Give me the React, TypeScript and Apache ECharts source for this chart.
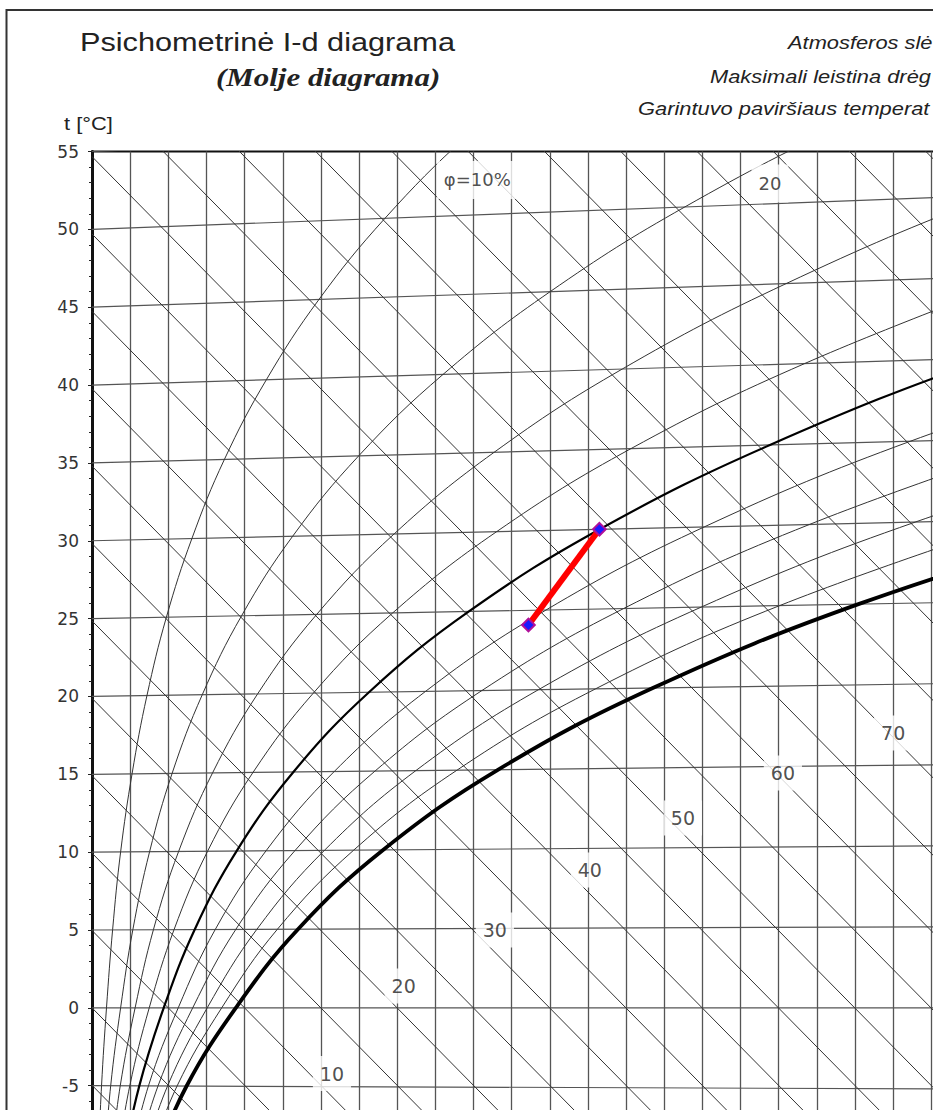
import React, { useEffect, useRef } from "react";
import * as echarts from "echarts";

// ---- chart geometry (skewed Mollier coordinates) ----
const D_MAX = 24; // g/kg, right end of x range (beyond picture)
const ISO_SKEW = 0.001849; // isotherm rise per g/kg (relative)
const H_SLOPE = 2.501; // kJ/kg per g/kg
const H_CP = 1.006;

// ---- values ----
const ISOTHERMS = [-10, -5, 0, 5, 10, 15, 20, 25, 30, 35, 40, 45, 50, 55];
const ENTHALPIES = [
  -10, -5, 0, 5, 10, 15, 20, 25, 30, 35, 40, 45, 50, 55, 60, 65, 70, 75, 80, 85, 90, 95, 100, 105, 110, 115, 120,
];
const Y_TICKS_MIN = -10;
const Y_TICKS_MAX = 55;
const Y_LABEL_MIN = -5; // lowest tick label shown in the picture

// relative humidity curves: [d g/kg, chart t]
const PHI_10 = [[0.16, -10.0], [0.25, -5.0], [0.38, 0], [0.54, 5.01], [0.75, 10.01], [1.05, 15.03], [1.44, 20.05], [1.95, 25.09], [2.62, 30.15], [3.47, 35.22], [4.57, 40.34], [5.95, 45.5], [7.68, 50.71], [9.83, 56.0], [12.49, 61.39]];
const PHI_20 = [[0.32, -10.01], [0.49, -5.0], [0.75, 0], [1.07, 5.01], [1.51, 10.03], [2.1, 15.06], [2.89, 20.11], [3.92, 25.18], [5.26, 30.29], [6.99, 35.45], [9.2, 40.68], [12.01, 46.0], [15.54, 51.44], [19.97, 57.03], [25.49, 62.83]];
const PHI_30 = [[0.48, -10.01], [0.74, -5.01], [1.13, 0], [1.61, 5.02], [2.27, 10.04], [3.16, 15.09], [4.34, 20.16], [5.89, 25.27], [7.92, 30.44], [10.54, 35.68], [13.9, 41.03], [18.19, 46.51], [23.61, 52.18], [30.45, 58.1]];
const PHI_40 = [[0.64, -10.01], [0.99, -5.01], [1.5, 0], [2.15, 5.02], [3.03, 10.06], [4.22, 15.12], [5.8, 20.21], [7.88, 25.36], [10.61, 30.59], [14.13, 35.92], [18.68, 41.38], [24.49, 47.04]];
const PHI_50 = [[0.8, -10.01], [1.24, -5.01], [1.88, 0], [2.69, 5.02], [3.79, 10.07], [5.28, 15.15], [7.26, 20.27], [9.88, 25.46], [13.31, 30.74], [17.77, 36.15], [23.52, 41.74], [30.91, 47.57]];
const PHI_60 = [[0.96, -10.02], [1.48, -5.01], [2.26, 0], [3.23, 5.03], [4.56, 10.08], [6.35, 15.18], [8.74, 20.32], [11.9, 25.55], [16.05, 30.89], [21.45, 36.39], [28.44, 42.1]];
const PHI_70 = [[1.12, -10.02], [1.73, -5.02], [2.64, 0], [3.77, 5.04], [5.32, 10.1], [7.42, 15.21], [10.22, 20.38], [13.93, 25.64], [18.8, 31.04], [25.17, 36.63]];
const PHI_80 = [[1.28, -10.02], [1.98, -5.02], [3.02, 0], [4.32, 5.04], [6.09, 10.11], [8.49, 15.24], [11.7, 20.43], [15.97, 25.74], [21.58, 31.2], [28.93, 36.87]];
const PHI_90 = [[1.44, -10.03], [2.23, -5.02], [3.4, 0], [4.86, 5.05], [6.86, 10.13], [9.57, 15.27], [13.2, 20.49], [18.02, 25.83], [24.38, 31.35]];
const PHI_100 = [[1.6, -10.03], [2.48, -5.02], [3.77, 0], [5.4, 5.05], [7.63, 10.14], [10.65, 15.3], [14.7, 20.54], [20.09, 25.93], [27.21, 31.51]];

const ENTHALPY_LABELS = ["10", "20", "30", "40", "50", "60", "70"];
const ENTHALPY_LABEL_D = [6.29, 8.17, 10.56, 13.05, 15.49, 18.11, 21.0];
const ENTHALPY_LABEL_T = [-4.22, 1.4, 5.0, 8.85, 12.19, 15.08, 17.65];

const PHI_LABELS = ["φ=10%", "20"];
const PHI_LABEL_D = [10.1, 17.77];
const PHI_LABEL_T = [53.17, 52.94];

const PROCESS_D = [11.44, 13.3];
const PROCESS_T = [24.59, 30.74];

const TITLE = "Psichometrinė I-d diagrama";
const SUBTITLE = "(Molje diagrama)";
const Y_NAME = "t [°C]";
const INFO_LINES = ["Atmosferos slė", "Maksimali leistina drėg", "Garintuvo paviršiaus temperat"];

export default function App() {
  const ref = useRef<HTMLDivElement>(null);
  useEffect(() => {
    document.body.style.margin = "0";
    const chart = echarts.init(ref.current as HTMLDivElement, null, { renderer: "svg" });
    const series: any[] = [];

    ISOTHERMS.forEach((t) => {
      series.push({
        type: "line",
        data: [[0, t], [D_MAX, t * (1 + ISO_SKEW * D_MAX)]],
        symbol: "none",
        silent: true,
        lineStyle: { color: "#555", width: 1.2 },
        z: 2,
      });
    });
    ENTHALPIES.forEach((h) => {
      series.push({
        type: "line",
        data: [[0, h / H_CP], [D_MAX, (h - H_SLOPE * D_MAX) / H_CP]],
        symbol: "none",
        silent: true,
        lineStyle: { color: "#333", width: 1 },
        z: 2,
      });
    });
    const phiCurves = [PHI_10, PHI_20, PHI_30, PHI_40, PHI_50, PHI_60, PHI_70, PHI_80, PHI_90, PHI_100];
    phiCurves.forEach((c, i) => {
      const w = i === 9 ? 3.8 : i === 4 ? 2.2 : 1;
      series.push({
        type: "line",
        data: c,
        smooth: 0.4,
        symbol: "none",
        silent: true,
        lineStyle: { color: i === 9 || i === 4 ? "#000" : "#333", width: w },
        z: 3,
      });
    });

    const labelStyle = {
      show: true,
      position: "inside",
      formatter: (p: any) => p.value[2],
      backgroundColor: "#fff",
      padding: [8, 7],
      fontSize: 19,
      fontFamily: "DejaVu Sans",
      color: "#222",
    };
    series.push({
      type: "scatter",
      data: ENTHALPY_LABELS.map((l, i) => [ENTHALPY_LABEL_D[i], ENTHALPY_LABEL_T[i], l]),
      symbolSize: 1,
      itemStyle: { color: "rgba(0,0,0,0)" },
      label: labelStyle,
      silent: true,
      z: 5,
    });
    series.push({
      type: "scatter",
      data: PHI_LABELS.map((l, i) => [PHI_LABEL_D[i], PHI_LABEL_T[i], l]),
      symbolSize: 1,
      itemStyle: { color: "rgba(0,0,0,0)" },
      label: { ...labelStyle, fontSize: 18, padding: [10, 7] },
      silent: true,
      z: 5,
    });
    series.push({
      type: "line",
      data: PROCESS_D.map((d, i) => [d, PROCESS_T[i]]),
      symbol: "rect",
      symbolSize: 9,
      symbolRotate: 45,
      lineStyle: { color: "#ff0000", width: 6 },
      itemStyle: { color: "#1a1aff", borderColor: "#b0109a", borderWidth: 2 },
      z: 8,
    });

    const gridLeft = 92;
    const gridTop = 151.5;
    const pxPerD = 38.15;
    const pxPerT = 15.57;

    chart.setOption({
      animation: false,
      backgroundColor: "#fff",
      grid: {
        left: gridLeft,
        top: gridTop,
        width: D_MAX * pxPerD,
        height: (Y_TICKS_MAX - Y_TICKS_MIN) * pxPerT,
        outerBoundsMode: "none",
        containLabel: false,
        show: true,
        borderColor: "#111",
        borderWidth: 2,
        backgroundColor: "transparent",
      },
      xAxis: {
        type: "value",
        min: 0,
        max: D_MAX,
        interval: 1,
        axisLine: { show: false },
        axisTick: { show: false },
        axisLabel: { show: false },
        splitLine: { show: true, lineStyle: { color: "#555", width: 1.3 } },
      },
      yAxis: {
        type: "value",
        min: Y_TICKS_MIN,
        max: Y_TICKS_MAX,
        interval: 5,
        axisLine: { show: true, lineStyle: { color: "#111", width: 3 } },
        axisTick: { show: true, length: 4, lineStyle: { color: "#222" } },
        minorTick: { show: true, splitNumber: 5, length: 3, lineStyle: { color: "#222" } },
        splitLine: { show: false },
        axisLabel: {
          fontSize: 17,
          fontFamily: "DejaVu Sans",
          color: "#333",
          margin: 13,
          formatter: (v: number) => (v < Y_LABEL_MIN ? "" : String(v)),
        },
      },
      graphic: [
        {
          type: "rect",
          shape: { x: 6.5, y: 10, width: 1000, height: 1200 },
          style: { fill: "none", stroke: "#333", lineWidth: 2 },
          z: 0,
          silent: true,
        },
        {
          type: "text",
          x: 80,
          y: 42,
          scaleX: 1.18,
          style: { text: TITLE, font: "26px 'Liberation Sans', Arial", fill: "#222", textVerticalAlign: "middle" },
        },
        {
          type: "text",
          x: 216,
          y: 77,
          scaleX: 1.19,
          style: {
            text: SUBTITLE,
            font: "italic bold 26px 'Liberation Serif', 'Times New Roman'",
            fill: "#222",
            textVerticalAlign: "middle",
          },
        },
        {
          type: "text",
          x: 64,
          y: 123,
          scaleX: 1.15,
          style: { text: Y_NAME, font: "19px 'Liberation Sans', Arial", fill: "#222", textVerticalAlign: "middle" },
        },
        {
          type: "text",
          x: 788,
          y: 42,
          scaleX: 1.15,
          style: { text: INFO_LINES[0], font: "italic 19px 'Liberation Sans', Arial", fill: "#222", textVerticalAlign: "middle" },
        },
        {
          type: "text",
          x: 710,
          y: 76,
          scaleX: 1.15,
          style: { text: INFO_LINES[1], font: "italic 19px 'Liberation Sans', Arial", fill: "#222", textVerticalAlign: "middle" },
        },
        {
          type: "text",
          x: 638,
          y: 108,
          scaleX: 1.15,
          style: { text: INFO_LINES[2], font: "italic 19px 'Liberation Sans', Arial", fill: "#222", textVerticalAlign: "middle" },
        },
      ],
      series,
    });
    return () => chart.dispose();
  }, []);
  return <div ref={ref} style={{ width: 933, height: 1110 }} />;
}
